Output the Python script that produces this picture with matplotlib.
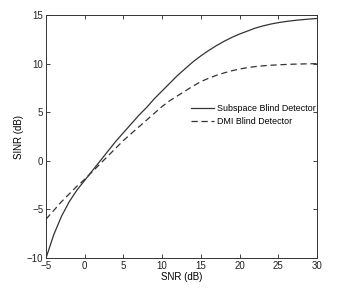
import matplotlib
matplotlib.use('Agg')
import matplotlib.pyplot as plt

# SNR values (dB) and read-off SINR values for both detectors
snr = [-5, -4, -3, -2, -1, 0, 1, 2, 3, 4, 5, 6, 7, 8, 9, 10, 11, 12, 13, 14, 15,
       16, 17, 18, 19, 20, 21, 22, 23, 24, 25, 26, 27, 28, 29, 30]
sinr_subspace = [-10, -7.6, -5.7, -4.2, -3.0, -2.0, -1.0, 0.0, 1.0, 2.0, 2.9, 3.8, 4.7,
                 5.5, 6.4, 7.2, 8.0, 8.8, 9.5, 10.2, 10.8, 11.35, 11.85, 12.3, 12.7, 13.05,
                 13.35, 13.65, 13.88, 14.07, 14.22, 14.34, 14.44, 14.52, 14.59, 14.65]
sinr_dmi = [-6.0, -5.1, -4.2, -3.4, -2.6, -1.9, -1.1, -0.3, 0.5, 1.3, 2.1, 2.8, 3.5,
            4.2, 4.9, 5.6, 6.2, 6.7, 7.2, 7.7, 8.15, 8.5, 8.8, 9.05, 9.27, 9.45, 9.59,
            9.7, 9.78, 9.84, 9.88, 9.92, 9.95, 9.97, 9.99, 10.0]
xticks = [-5, 0, 5, 10, 15, 20, 25, 30]
yticks = [-10, -5, 0, 5, 10, 15]

plt.rcParams['font.family'] = ['Liberation Sans', 'DejaVu Sans']
plt.rcParams['font.size'] = 7

fig = plt.figure(figsize=(3.37, 2.9), dpi=100)
ax = fig.add_axes([0.1365, 0.110, 0.804, 0.838])

ax.plot(snr, sinr_subspace, color='#333333', lw=0.9, ls='-', label='Subspace Blind Detector')
ax.plot(snr, sinr_dmi, color='#333333', lw=0.9, ls=(0, (5, 3)), label='DMI Blind Detector')

ax.set_xlim(-5, 30)
ax.set_ylim(-10, 15)
ax.set_xticks(xticks)
ax.set_yticks(yticks)
ax.tick_params(direction='in', length=3, width=0.6, top=True, right=True, pad=2, colors='#222222')
for s in ax.spines.values():
    s.set_linewidth(0.7)
    s.set_color('#333333')

ax.set_xlabel('SNR (dB)', labelpad=1)
ax.set_ylabel('SINR (dB)', labelpad=2)

ax.legend(loc='center left', bbox_to_anchor=(0.535, 0.588), frameon=False,
          handlelength=2.6, handletextpad=0.3, borderpad=0, borderaxespad=0,
          labelspacing=0.45, fontsize=6.4)

fig.savefig('out.png', dpi=100)
